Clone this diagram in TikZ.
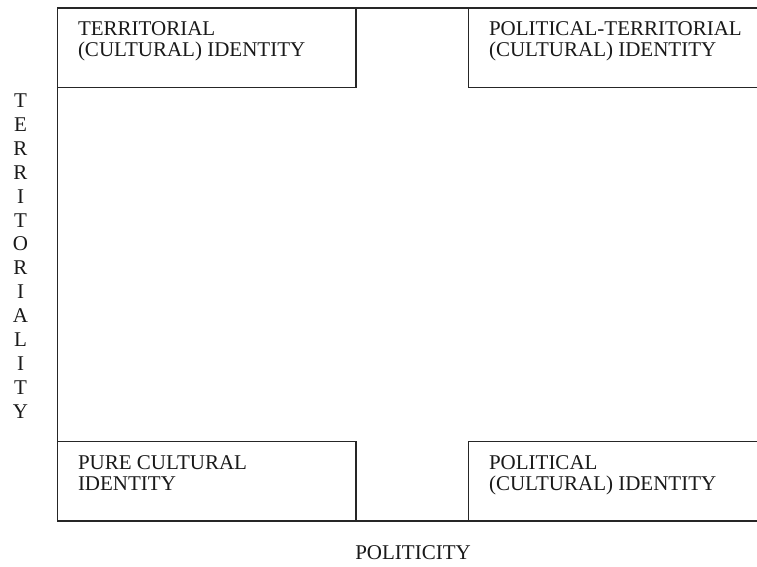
\documentclass[tikz,border=0pt]{standalone}
\usepackage{fontspec}
\setmainfont{Liberation Serif}
\usepackage{xcolor}
\usetikzlibrary{positioning}

\tikzset{
  case/.style={draw=black!85, line width=1.1pt, minimum width=298.5pt,
    minimum height=79.5pt, inner sep=0pt, outer sep=0pt},
  etiq/.style={inner sep=0pt, outer sep=0pt, align=left, text=black!90,
    font=\fontsize{21}{21}\selectfont},
  trait/.style={draw=black!85, line width=1.1pt},
}

\begin{document}
\begin{tikzpicture}[x=1pt,y=1pt]
  \useasboundingbox (0,0) rectangle (757,567);
  \clip (0,0) rectangle (757,567);
  \def\haut{559}
  \def\bas{46}
  \def\gauche{57.5}
  \def\droite{468.5}

  % Cases
  \node[case, anchor=north west] (tl) at (\gauche,\haut) {};
  \node[case, anchor=north west, minimum width=300pt] (tr) at (\droite,\haut) {};
  \node[case, anchor=south west] (bl) at (\gauche,\bas) {};
  \node[case, anchor=south west, minimum width=300pt] (br) at (\droite,\bas) {};

  % Cadre
  \draw[trait] (tl.north east) -- (tr.north west);
  \draw[trait] (bl.south east) -- (br.south west);
  \draw[trait] (tl.south west) -- (bl.north west);

  % Textes des cases
  \node[etiq, below right=14pt and 20.5pt of tl.north west] (tltxt)
    {TERRITORIAL\\(CULTURAL) IDENTITY};
  \node[etiq, below right=14pt and 20.5pt of tr.north west] (trtxt)
    {POLITICAL-TERRITORIAL\\(CULTURAL) IDENTITY};
  \node[etiq, below right=14pt and 20.5pt of bl.north west] (bltxt)
    {PURE CULTURAL\\IDENTITY};
  \node[etiq, below right=14pt and 20.5pt of br.north west] (brtxt)
    {POLITICAL\\(CULTURAL) IDENTITY};

  % Axes
  \node[etiq, align=center, font=\fontsize{21}{23.9}\selectfont] (terr) at (20.5,311)
    {T\\E\\R\\R\\I\\T\\O\\R\\I\\A\\L\\I\\T\\Y};
  \node[etiq] (polit) at (413,14) {POLITICITY};
\end{tikzpicture}
\end{document}
